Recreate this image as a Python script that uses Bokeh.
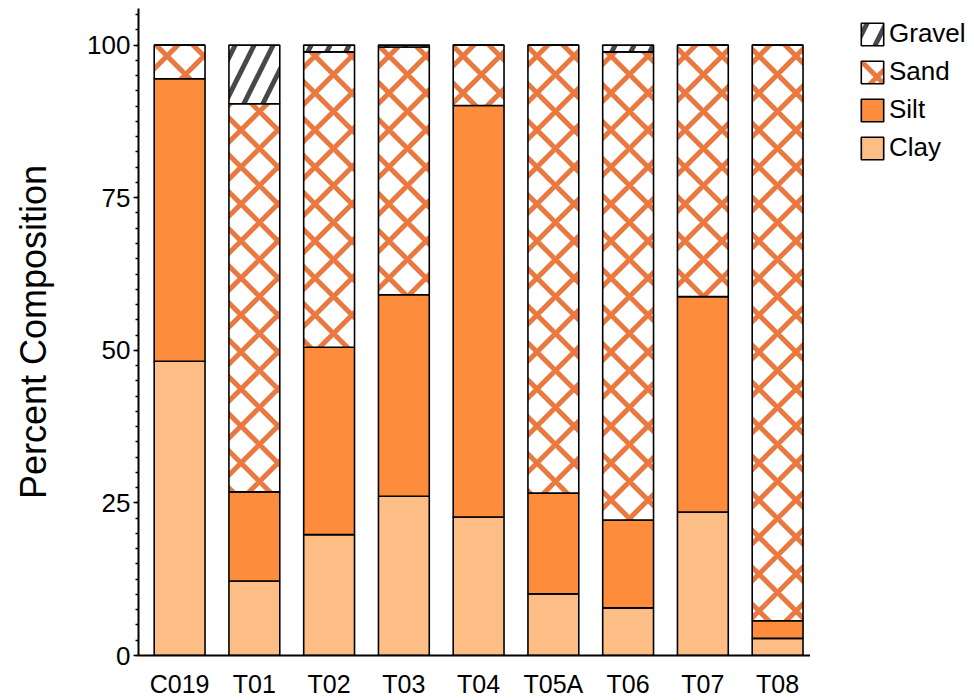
from bokeh.plotting import figure
from bokeh.layouts import row
from bokeh.models import ColumnDataSource, Range1d, FixedTicker, Legend, LegendItem
from bokeh.embed import file_html
from bokeh.resources import INLINE

# Grain-size composition (%) of each sample
samples = ["C019", "T01", "T02", "T03", "T04", "T05A", "T06", "T07", "T08"]
clay   = [48.2, 12.2, 19.8, 26.1, 22.7, 10.1,  7.8, 23.5,  2.8]
silt   = [46.3, 14.6, 30.7, 33.0, 67.4, 16.5, 14.4, 35.3,  2.9]
sand   = [ 5.5, 63.6, 48.4, 40.6,  9.9, 73.4, 76.7, 41.2, 94.3]
gravel = [ 0.0,  9.6,  1.1,  0.3,  0.0,  0.0,  1.1,  0.0,  0.0]

y_ticks = [0, 25, 50, 75, 100]

FONT = "Liberation Sans"

x = list(range(len(samples)))
layers = [
    ("Clay", clay, dict(fill_color="#FDBE85")),
    ("Silt", silt, dict(fill_color="#FD8D3C")),
    ("Sand", sand, dict(fill_color="white", hatch_pattern="diagonal_cross", hatch_scale=37,
                        hatch_weight=5, hatch_color="#E8601C", hatch_alpha=0.85)),
    ("Gravel", gravel, dict(fill_color="white", hatch_pattern="right_diagonal_line",
                            hatch_scale=38, hatch_weight=5, hatch_color="#1a1a1a",
                            hatch_alpha=0.8)),
]
BAR = dict(line_color="black", line_width=1.6)

p = figure(width=810, height=700, output_backend="svg", toolbar_location=None,
           x_range=Range1d(-0.55, 8.44), y_range=Range1d(0, 106),
           min_border_left=138, min_border_right=0, min_border_top=8,
           min_border_bottom=39)

p.outline_line_color = None
p.xgrid.grid_line_color = None
p.ygrid.grid_line_color = None

sources = {}
bottom = [0.0] * len(samples)
for name, vals, style in layers:
    top = [b + v for b, v in zip(bottom, vals)]
    src = ColumnDataSource(dict(x=x, bottom=bottom, top=top))
    p.vbar(x="x", bottom="bottom", top="top", width=0.68, source=src, **BAR, **style)
    sources[name] = src
    bottom = top

# axes
p.xaxis.ticker = FixedTicker(ticks=x)
p.xaxis.major_label_overrides = {i: s for i, s in enumerate(samples)}
p.xaxis.major_tick_line_color = None
p.xaxis.minor_tick_line_color = None
p.xaxis.major_tick_out = 0
p.xaxis.major_tick_in = 0
p.xaxis.major_label_standoff = 14
p.xaxis.axis_line_width = 2
p.xaxis.axis_line_color = "black"
p.xaxis.major_label_text_font = FONT
p.xaxis.major_label_text_font_size = "25px"
p.xaxis.major_label_text_color = "black"

p.yaxis.ticker = FixedTicker(ticks=y_ticks, minor_ticks=[i * 2.5 for i in range(43)])
p.yaxis.axis_line_width = 2
p.yaxis.axis_line_color = "black"
p.yaxis.major_tick_out = 5
p.yaxis.major_tick_in = 0
p.yaxis.major_tick_line_width = 1.5
p.yaxis.minor_tick_out = 3
p.yaxis.minor_tick_in = 0
p.yaxis.minor_tick_line_width = 1.5
p.yaxis.major_label_standoff = 3
p.yaxis.major_label_text_font = FONT
p.yaxis.major_label_text_font_size = "26px"
p.yaxis.major_label_text_color = "black"
p.yaxis.axis_label = "Percent Composition"
p.yaxis.axis_label_text_font = FONT
p.yaxis.axis_label_text_font_size = "36px"
p.yaxis.axis_label_text_font_style = "normal"
p.yaxis.axis_label_text_color = "black"
p.yaxis.axis_label_standoff = 30

# legend panel at the right; its swatch renderers reuse the bar sources with an
# undefined x, so no bar is drawn there and only the legend shows
leg = figure(width=164, height=700, output_backend="svg", toolbar_location=None,
             x_range=Range1d(0, 1), y_range=Range1d(0, 106),
             x_axis_type=None, y_axis_type=None,
             min_border_left=38, min_border_top=8, min_border_right=0,
             min_border_bottom=39)
leg.outline_line_color = None
leg.xgrid.grid_line_color = None
leg.ygrid.grid_line_color = None

swatches = {}
for name, _, style in layers:
    swatches[name] = leg.vbar(x=float("nan"), bottom="bottom", top="top", width=0.68,
                              source=sources[name], **BAR, **style)

legend = Legend(
    items=[LegendItem(label=n, renderers=[swatches[n]]) for n in ["Gravel", "Sand", "Silt", "Clay"]],
    location="top_left", orientation="vertical",
    glyph_width=28, glyph_height=28, spacing=7, label_standoff=3,
    label_text_font=FONT, label_text_font_size="26px", label_text_color="black",
    padding=0, margin=10, border_line_color=None, background_fill_alpha=0,
)
leg.add_layout(legend, "center")

open("out.html", "w").write(file_html(row(p, leg), INLINE))
